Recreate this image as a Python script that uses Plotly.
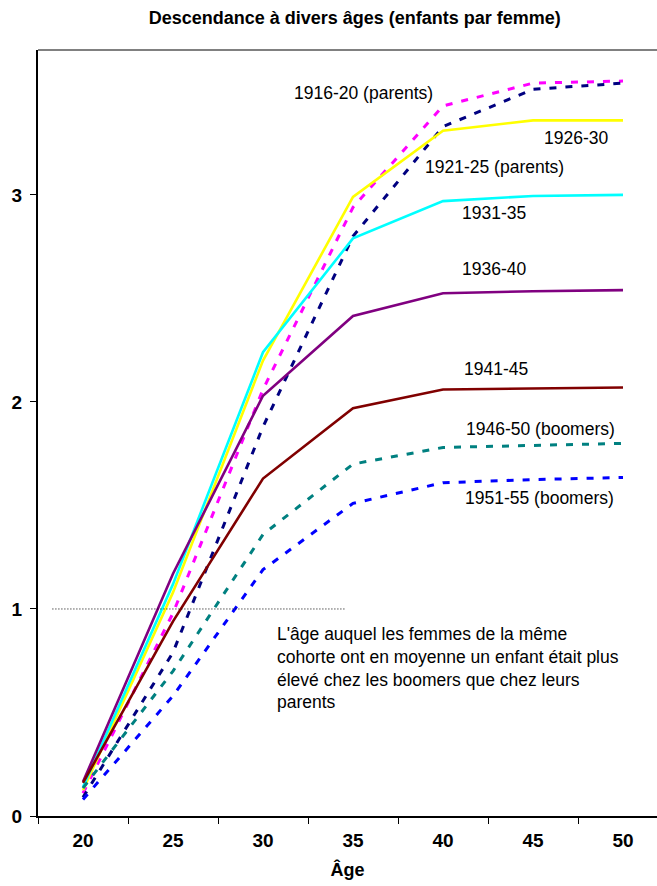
import plotly.graph_objects as go

# Ages at which completed descent is measured
ages = [20, 25, 30, 35, 40, 45, 50]

# Children per woman reached by each age, per birth cohort
c1916_20 = [0.11, 0.98, 2.06, 2.94, 3.43, 3.54, 3.55]
c1921_25 = [0.09, 0.79, 1.88, 2.80, 3.33, 3.51, 3.54]
c1926_30 = [0.125, 1.08, 2.20, 2.99, 3.31, 3.36, 3.36]
c1931_35 = [0.14, 1.12, 2.24, 2.79, 2.97, 2.995, 3.0]
c1936_40 = [0.165, 1.17, 2.03, 2.415, 2.525, 2.535, 2.54]
c1941_45 = [0.16, 0.94, 1.63, 1.97, 2.06, 2.065, 2.07]
c1946_50 = [0.135, 0.70, 1.36, 1.70, 1.78, 1.79, 1.80]
c1951_55 = [0.08, 0.58, 1.19, 1.51, 1.61, 1.625, 1.635]

cohort_names = ["1916-20 (parents)", "1921-25 (parents)", "1926-30", "1931-35",
                "1936-40", "1941-45", "1946-50 (boomers)", "1951-55 (boomers)"]
cohort_values = [c1916_20, c1921_25, c1926_30, c1931_35,
                 c1936_40, c1941_45, c1946_50, c1951_55]
cohort_colors = ["#FF00FF", "#000080", "#FFFF00", "#00FFFF",
                 "#800080", "#800000", "#008080", "#0000FF"]
cohort_dashed = [True, True, False, False, False, False, True, True]

# Label anchor positions (age, children) for each cohort name
label_x = [35.59, 42.85, 47.38, 42.86, 42.84, 42.96, 45.41, 45.35]
label_y = [3.491, 3.137, 3.274, 2.912, 2.641, 2.158, 1.868, 1.535]

note_text = ("L'âge auquel les femmes de la même<br>"
             "cohorte ont en moyenne un enfant était plus<br>"
             "élevé chez les boomers que chez leurs<br>"
             "parents")

FONT = "Arial, 'Liberation Sans', sans-serif"

fig = go.Figure()

for name, vals, col, dashed in zip(cohort_names, cohort_values, cohort_colors, cohort_dashed):
    fig.add_trace(go.Scatter(
        x=ages, y=vals, mode="lines", name=name,
        line=dict(color=col, width=3 if dashed else 2.6,
                  dash="7px,9px" if dashed else "solid"),
        showlegend=False, hoverinfo="x+y+name",
    ))

for name, lx, ly in zip(cohort_names, label_x, label_y):
    fig.add_annotation(x=lx, y=ly, xref="x", yref="y", text=name, showarrow=False,
                       font=dict(family=FONT, size=17.5, color="#000000"),
                       xanchor="center", yanchor="middle")

fig.add_annotation(x=20 + (275 - 83) / 18, y=(816 - 622) / 207, xref="x", yref="y",
                   text=note_text, showarrow=False, align="left",
                   xanchor="left", yanchor="top",
                   font=dict(family=FONT, size=17.5, color="#000000"))

# Dotted reference line at one child per woman
fig.add_shape(type="line", xref="x", yref="y", x0=18.3, x1=34.55, y0=1, y1=1,
              line=dict(color="#000000", width=1, dash="1px,2px"))

# Grey top frame
fig.add_shape(type="line", xref="paper", yref="paper", x0=0, x1=1, y0=1, y1=1,
              line=dict(color="#808080", width=2))

fig.update_layout(
    width=657, height=886,
    margin=dict(l=38, r=0, t=50, b=70),
    paper_bgcolor="white", plot_bgcolor="white",
    title=dict(text="<b>Descendance à divers âges (enfants par femme)</b>",
               x=0.54, xanchor="center", y=1 - 18 / 886, yanchor="middle",
               font=dict(family=FONT, size=18, color="#000000")),
    font=dict(family=FONT, color="#000000"),
)

fig.update_xaxes(
    range=[17.5, 17.5 + 619 / 18],
    tickmode="array", tickvals=ages, ticktext=[f"<b>{a}</b>" for a in ages],
    ticks="", tickfont=dict(family=FONT, size=19, color="#000000"),
    showgrid=False, zeroline=False,
    showline=True, linecolor="#000000", linewidth=2,
    minor=dict(tickmode="array", tickvals=[17.5, 22.5, 27.5, 32.5, 37.5, 42.5, 47.5],
               ticks="outside", ticklen=6, tickcolor="#000000", tickwidth=1, showgrid=False),
    title=dict(text="<b>Âge</b>", font=dict(family=FONT, size=18, color="#000000"), standoff=14),
    ticklabelstandoff=6,
)

fig.update_yaxes(
    range=[0, 3.7],
    tickmode="array", tickvals=[0, 1, 2, 3], ticktext=["<b>0</b>", "<b>1</b>", "<b>2</b>", "<b>3</b>"],
    ticks="outside", ticklen=6, tickcolor="#000000", tickwidth=1,
    tickfont=dict(family=FONT, size=19, color="#000000"),
    showgrid=False, zeroline=False,
    showline=True, linecolor="#000000", linewidth=2,
    ticklabelstandoff=4,
)

fig.write_html("out.html")
